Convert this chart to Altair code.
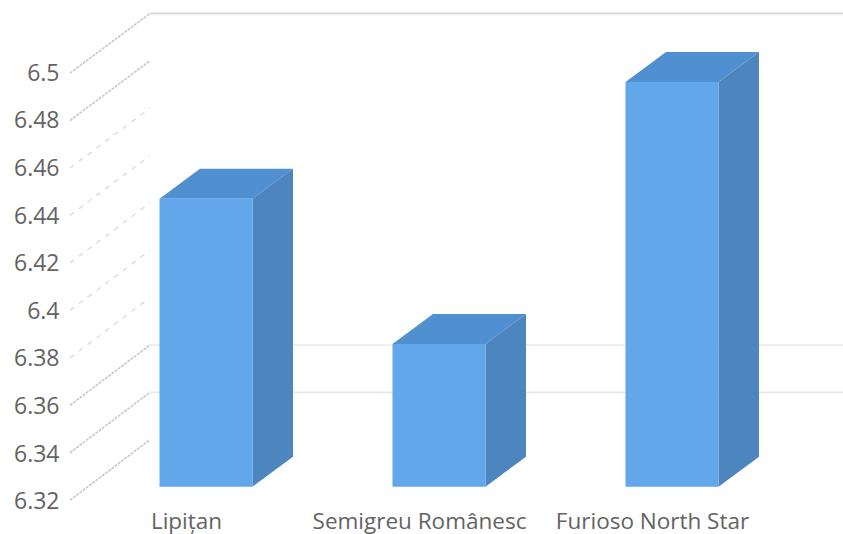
import json
import altair as alt
import pandas as pd

# Chart values
breeds = ["Lipițan", "Semigreu Românesc", "Furioso North Star"]
values = [6.441, 6.38, 6.49]
ticks = [6.32, 6.34, 6.36, 6.38, 6.4, 6.42, 6.44, 6.46, 6.48, 6.5]
dense_ticks = [6.32, 6.34, 6.36, 6.48, 6.5]
sparse_ticks = [6.38, 6.4, 6.42, 6.44, 6.46]
back_wall_ticks = [6.34, 6.36]
base = 6.32

# Canvas and scale geometry
W, H = 843, 534
SLOT_PX = 233.0       # distance between neighbouring bars
FIRST_SLOT_PX = 206.0 # centre of the first bar
UNIT_PX = 47.6 / 0.02 # pixels per axis unit
BASE_PX = 486.7       # where the base value sits on the bar plane

x_domain = [-FIRST_SLOT_PX / SLOT_PX, (W - FIRST_SLOT_PX) / SLOT_PX]
y_domain = [base - (H - BASE_PX) / UNIT_PX, base + BASE_PX / UNIT_PX]
x_scale = alt.Scale(domain=x_domain, range=[0, W], nice=False, zero=False)
y_scale = alt.Scale(domain=y_domain, range=[H, 0], nice=False, zero=False)

# 3D extrusion, expressed in scale units
half_w = 46.5 / SLOT_PX
depth_x = 40.5 / SLOT_PX
depth_y = 30.0 / UNIT_PX

# Floor-to-back-wall projection of the value grid (perspective shrinks it slightly)
wall_front_x = (70 - FIRST_SLOT_PX) / SLOT_PX
wall_back_x = (150 - FIRST_SLOT_PX) / SLOT_PX
wall_front_dy = -13.5 / UNIT_PX
wall_back_dy = 47.0 / UNIT_PX


def wall_front_y(t):
    return base + (t - base) * 0.997 + wall_front_dy


def wall_back_y(t):
    return base + (t - base) * 0.995 + wall_back_dy


FRONT, TOP, SIDE = "#61a7e9", "#5090d0", "#4d85bf"
TEXT = "#636363"
FONT = "Open Sans"

label_expr = f"{json.dumps(breeds, ensure_ascii=False)}[datum.value]"
x_axis = alt.Axis(
    orient="bottom", offset=-24, values=[0, 1, 2], labelExpr=label_expr,
    title=None, grid=False, ticks=False, domain=False, labelPadding=0,
    labelOffset=-20, labelFont=FONT, labelFontSize=22.5, labelColor=TEXT,
    labelOverlap=False, labelLimit=400,
)
y_axis = alt.Axis(
    orient="left", offset=-59, values=ticks, format="~g", title=None, grid=False,
    ticks=False, domain=False, labelPadding=0, labelOffset=15,
    labelFont=FONT, labelFontSize=23, labelColor=TEXT, labelOverlap=False,
)

x_q = lambda f: alt.X(f, type="quantitative", scale=x_scale, axis=x_axis)
y_q = lambda f: alt.Y(f, type="quantitative", scale=y_scale, axis=y_axis)

fronts = pd.DataFrame([
    {"slot": i, "left": i - half_w, "right": i + half_w, "top": v, "base": base}
    for i, v in enumerate(values)
])

sides, tops = [], []
for i, v in enumerate(values):
    for step in (0, 1):
        sides.append({
            "slot": i,
            "x": i + half_w + step * depth_x,
            "upper": v + step * depth_y,
            "lower": base + step * depth_y,
        })
        tops.append({
            "slot": i,
            "xl": i - half_w + step * depth_x,
            "xr": i + half_w + step * depth_x,
            "y": v + step * depth_y,
        })
sides = pd.DataFrame(sides)
tops = pd.DataFrame(tops)


def wall_lines(tick_list):
    rows = []
    for t in tick_list:
        rows.append({"tick": t, "x": wall_front_x, "y": wall_front_y(t)})
        rows.append({"tick": t, "x": wall_back_x, "y": wall_back_y(t)})
    return pd.DataFrame(rows)


def wall_layer(tick_list, color, dash, width):
    return alt.Chart(wall_lines(tick_list)).mark_line(
        color=color, strokeDash=dash, strokeWidth=width
    ).encode(x=x_q("x"), y=y_q("y"), detail="tick:N")


dense = wall_layer(dense_ticks, "#c8c8c8", [3, 1], 1.6)
sparse = wall_layer(sparse_ticks, "#dcdcdc", [5, 6], 1.4)

# Horizontal grid on the back wall, plus the wall's top edge
back_rows = pd.DataFrame(
    [{"tick": t, "x": wall_back_x, "x2": x_domain[1], "y": wall_back_y(t)}
     for t in back_wall_ticks]
)
back_grid = alt.Chart(back_rows).mark_rule(color="#e8e8e8", strokeWidth=1.6).encode(
    x=x_q("x"), x2="x2:Q", y=y_q("y")
)
top_edge = alt.Chart(
    pd.DataFrame([{"x": wall_back_x, "x2": x_domain[1], "y": wall_back_y(ticks[-1])}])
).mark_rule(color="#d9d9d9", strokeWidth=2).encode(
    x=x_q("x"), x2="x2:Q", y=y_q("y")
)

front = alt.Chart(fronts).mark_rect(color=FRONT).encode(
    x=x_q("left"), x2="right:Q", y=y_q("top"), y2="base:Q"
)
side = alt.Chart(sides).mark_area(color=SIDE, orient="vertical", opacity=1).encode(
    x=x_q("x"), y=y_q("upper"), y2="lower:Q", detail="slot:N"
)
top = alt.Chart(tops).mark_area(color=TOP, orient="horizontal", opacity=1).encode(
    x=x_q("xl"), x2="xr:Q", y=y_q("y"), detail="slot:N"
)

chart = alt.layer(dense, sparse, back_grid, top_edge, side, top, front).properties(
    width=W, height=H, padding=0, autosize=alt.AutoSizeParams(type="none"),
    background="white",
).configure_view(stroke=None)

chart.save("out.html", embed_options={"renderer": "svg", "actions": False})
